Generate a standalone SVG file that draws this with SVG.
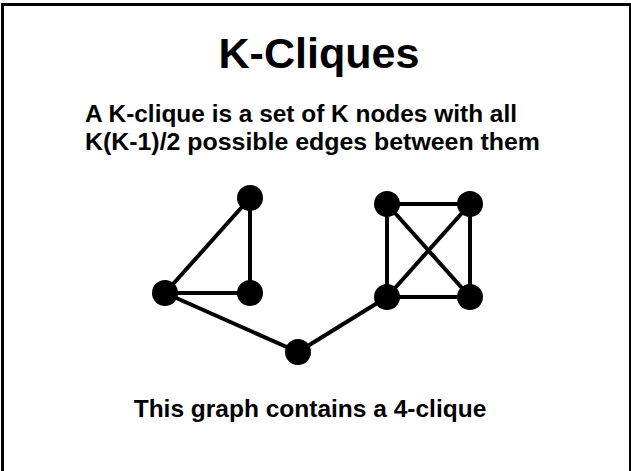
<svg xmlns="http://www.w3.org/2000/svg" width="631" height="471" viewBox="0 0 631 471">
<style>
.t{font-family:"Liberation Sans",Arial,sans-serif;font-weight:bold;fill:#000}
.n{fill:#000}
.e{stroke:#000;stroke-width:4;fill:none}
</style>
<rect x="0" y="0" width="631" height="471" fill="#fff"/>
<rect x="2.5" y="4.5" width="628" height="480" fill="none" stroke="#000" stroke-width="3"/>
<text class="t" x="319" y="68" font-size="42" text-anchor="middle" textLength="201" lengthAdjust="spacingAndGlyphs">K-Cliques</text>
<text class="t" x="85" y="122" font-size="24.4" textLength="432" lengthAdjust="spacingAndGlyphs">A K-clique is a set of K nodes with all</text>
<text class="t" x="85" y="150" font-size="24.4" textLength="455" lengthAdjust="spacingAndGlyphs">K(K-1)/2 possible edges between them</text>
<g id="edges">
<line class="e" x1="165" y1="293" x2="250" y2="198"/>
<line class="e" x1="250" y1="198" x2="250" y2="293"/>
<line class="e" x1="165" y1="293" x2="250" y2="293"/>
<line class="e" x1="165" y1="293" x2="298" y2="352"/>
<line class="e" x1="298" y1="352" x2="387" y2="297"/>
<line class="e" x1="387" y1="204" x2="470" y2="204"/>
<line class="e" x1="387" y1="297" x2="470" y2="297"/>
<line class="e" x1="387" y1="204" x2="387" y2="297"/>
<line class="e" x1="470" y1="204" x2="470" y2="297"/>
<line class="e" x1="387" y1="204" x2="470" y2="297"/>
<line class="e" x1="470" y1="204" x2="387" y2="297"/>
</g>
<g id="n1"><circle class="n" cx="250" cy="198" r="13"/></g>
<g id="n2"><circle class="n" cx="165" cy="293" r="13"/></g>
<g id="n3"><circle class="n" cx="250" cy="293" r="13"/></g>
<g id="n4"><circle class="n" cx="298" cy="352" r="13"/></g>
<g id="n5"><circle class="n" cx="387" cy="204" r="13"/></g>
<g id="n6"><circle class="n" cx="470" cy="204" r="13"/></g>
<g id="n7"><circle class="n" cx="387" cy="297" r="13"/></g>
<g id="n8"><circle class="n" cx="470" cy="297" r="13"/></g>
<text class="t" x="310" y="417" font-size="24.5" text-anchor="middle">This graph contains a 4-clique</text>
</svg>
